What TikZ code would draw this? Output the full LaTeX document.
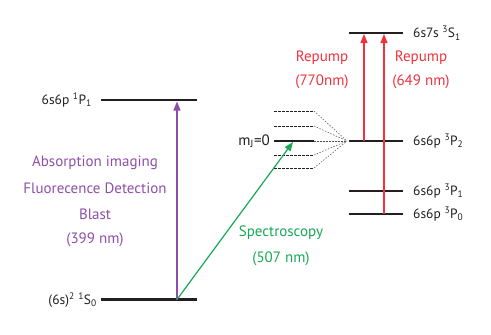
\documentclass[tikz,border=0pt]{standalone}
\usepackage{fontspec}
\setmainfont{PT Sans}
\usetikzlibrary{arrows.meta}
\definecolor{lvl}{RGB}{35,31,32}
\definecolor{ipurple}{RGB}{142,78,168}
\definecolor{igreen}{RGB}{22,168,86}
\definecolor{ired}{RGB}{240,50,60}
\tikzset{
  level/.style={line width=2.6pt,color=lvl},
  sublevel/.style={dash pattern=on 2.5pt off 1.5pt,line width=0.9pt,color=lvl},
  fan/.style={dash pattern=on 1.5pt off 1.5pt,line width=0.5pt,color=lvl!80},
  lbl/.style={font=\fontsize{13.5}{16}\selectfont,text=lvl,inner sep=0pt},
  tlbl/.style={font=\fontsize{15}{18}\selectfont,inner sep=0pt,align=center},
  trans/.style={line width=1.2pt,-{Triangle[length=9pt,width=7pt]}},
}
\newcommand{\up}[1]{\textsuperscript{#1}}
\newcommand{\dn}[1]{\textsubscript{#1}}
\begin{document}
\begin{tikzpicture}[x=1pt,y=-1pt]
\useasboundingbox (0,0) rectangle (491,335);
% levels
\coordinate (P1a) at (101,100); \coordinate (P1b) at (197,100);
\coordinate (S0a) at (101,299.5); \coordinate (S0b) at (197,299.5);
\coordinate (S1a) at (349,33); \coordinate (S1b) at (403,33);
\coordinate (P2a) at (349,141); \coordinate (P2b) at (403,141);
\coordinate (Pp1a) at (349,191); \coordinate (Pp1b) at (403,191);
\coordinate (P0a) at (349,214); \coordinate (P0b) at (403,214);
\coordinate (mJa) at (274,141); \coordinate (mJb) at (314,141);
\coordinate (fan) at (347,141);
\draw[level] (P1a) -- (P1b);
\draw[level] (S0a) -- (S0b);
\draw[level] (S1a) -- (S1b);
\draw[level] (P2a) -- (P2b);
\draw[level] (Pp1a) -- (Pp1b);
\draw[level] (P0a) -- (P0b);
\draw[level] (mJa) -- (mJb);
% sublevels
\foreach \yy/\nm in {111/a,126/b,155/c,168/d}{
  \coordinate (sl\nm) at (274,\yy);
  \coordinate (sr\nm) at (314,\yy);
  \draw[sublevel] (sl\nm) -- (sr\nm);
  \draw[fan] (sr\nm) -- (fan);
}
\draw[fan] (mJb) -- (fan);
% labels
\node[lbl,anchor=east] (lP1) at (92,100) {6s6p \up{1}P\dn{1}};
\node[lbl,anchor=east] (lS0) at (97,300) {(6s)\up{2} \up{1}S\dn{0}};
\node[lbl,anchor=west] (lS1) at (413,33) {6s7s \up{3}S\dn{1}};
\node[lbl,anchor=west] (lP2) at (413,141) {6s6p \up{3}P\dn{2}};
\node[lbl,anchor=west] (lPp1) at (413,191) {6s6p \up{3}P\dn{1}};
\node[lbl,anchor=west] (lP0) at (413,214) {6s6p \up{3}P\dn{0}};
\node[lbl,anchor=east,font=\fontsize{15}{18}\selectfont] (lmJ) at (270,141) {m\dn{J}=0};
% transitions
\coordinate (pA) at (177,299.5); \coordinate (pB) at (177,101.5);
\draw[trans,ipurple] (pA) -- (pB);
\coordinate (gB) at (293,142);
\draw[trans,igreen] (pA) -- (gB);
\coordinate (r1A) at (364,141); \coordinate (r1B) at (364,34);
\coordinate (r2A) at (384,214); \coordinate (r2B) at (384,34);
\draw[trans,ired] (r1A) -- (r1B);
\draw[trans,ired] (r2A) -- (r2B);
% transition labels
\node[tlbl,text=ipurple] (t1) at (95,163) {Absorption imaging};
\node[tlbl,text=ipurple] (t2) at (95,188) {Fluorecence Detection};
\node[tlbl,text=ipurple] (t3) at (95,214) {Blast};
\node[tlbl,text=ipurple] (t4) at (95,240) {(399 nm)};
\node[tlbl,text=igreen] (t5) at (281,233) {Spectroscopy};
\node[tlbl,text=igreen] (t6) at (281,259) {(507 nm)};
\node[tlbl,text=ired] (t7) at (322,58) {Repump};
\node[tlbl,text=ired] (t8) at (322,82) {(770nm)};
\node[tlbl,text=ired] (t9) at (421,58) {Repump};
\node[tlbl,text=ired] (t10) at (421,82) {(649 nm)};
\end{tikzpicture}
\end{document}
